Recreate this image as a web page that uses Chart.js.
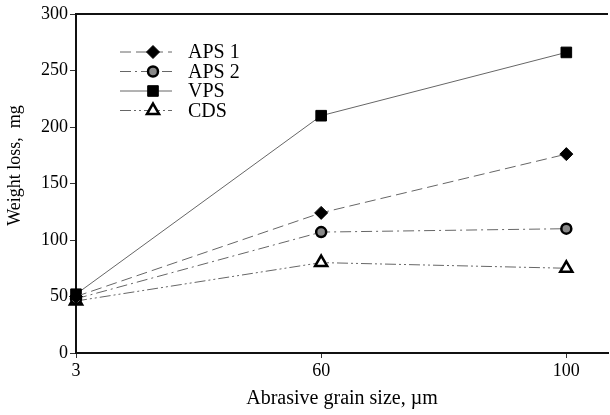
<!DOCTYPE html>
<html>
<head>
<meta charset="utf-8">
<script src="https://cdn.jsdelivr.net/npm/chart.js@4.4.1/dist/chart.umd.min.js"></script>
<style>
  html, body { margin: 0; padding: 0; background: #fff; }
  #wrap { width: 610px; height: 415px; }
</style>
</head>
<body>
<div id="wrap"><canvas id="c" width="610" height="415"></canvas></div>
<script>
// grain sizes (categories), weight loss in mg
const grainSizes = ['3', '60', '100'];
const aps1 = [50, 124, 176];
const aps2 = [48, 107, 110];
const vps = [52, 210, 266];
const cds = [46, 80, 75];
const yTicks = [0, 50, 100, 150, 200, 250, 300];

const serif = '"Liberation Serif", "DejaVu Serif", serif';

function pts(vals) {
    return vals.map((v, i) => ({ x: i, y: v }));
}

const series = [
    { label: 'APS 1', data: aps1, dash: [11, 5], style: 'rectRot', r: 6.5, fill: '#000', bw: 1 },
    { label: 'APS 2', data: aps2, dash: [11, 4, 2, 4], style: 'circle', r: 5, fill: '#888', bw: 2.5 },
    { label: 'VPS', data: vps, dash: [], style: 'rect', r: 7.5, fill: '#000', bw: 1 },
    { label: 'CDS', data: cds, dash: [11, 3, 2, 3, 2, 3], style: 'triangle', r: 7, fill: '#fff', bw: 2.5 }
];

const datasets = series.map(s => ({
    label: s.label,
    data: pts(s.data),
    borderColor: '#666',
    borderWidth: 1,
    borderDash: s.dash,
    pointStyle: s.style,
    pointRadius: s.r,
    pointBackgroundColor: s.fill,
    pointBorderColor: '#000',
    pointBorderWidth: s.bw,
    tension: 0,
    clip: false
}));

// legend inside the plot (line sample + marker) and the top frame line
const framePlugin = {
    id: 'frame',
    afterDraw(chart) {
        const ctx = chart.ctx;
        const a = chart.chartArea;
        ctx.save();
        ctx.strokeStyle = '#111';
        ctx.lineWidth = 2;
        ctx.beginPath();
        ctx.moveTo(a.left, a.top);
        ctx.lineTo(a.right, a.top);
        ctx.stroke();

        ctx.font = '20px ' + serif;
        ctx.textBaseline = 'middle';
        series.forEach((s, i) => {
            const y = 52 + i * 19.5;
            ctx.strokeStyle = '#666';
            ctx.lineWidth = 1;
            ctx.setLineDash(s.dash);
            ctx.beginPath();
            ctx.moveTo(120, y);
            ctx.lineTo(172, y);
            ctx.stroke();
            ctx.setLineDash([]);
            ctx.fillStyle = s.fill;
            ctx.strokeStyle = '#000';
            ctx.lineWidth = s.bw;
            Chart.helpers.drawPoint(ctx, {
                pointStyle: s.style,
                radius: s.r,
                rotation: 0,
                borderWidth: s.bw
            }, 153, y);
            ctx.fillStyle = '#000';
            ctx.fillText(s.label, 188, y + 1);
        });
        ctx.restore();
    }
};

new Chart(document.getElementById('c'), {
    type: 'line',
    data: { datasets: datasets },
    options: {
        responsive: false,
        animation: false,
        layout: { autoPadding: false, padding: { top: 14, right: 2, left: 0, bottom: 0 } },
        plugins: { legend: { display: false }, tooltip: { enabled: false } },
        scales: {
            x: {
                type: 'linear',
                min: 0,
                max: 2.17,
                afterFit: s => { s.height = 62; s.paddingRight = 0; s.paddingLeft = 0; },
                afterBuildTicks: s => { s.ticks = grainSizes.map((_, i) => ({ value: i })); },
                ticks: {
                    callback: v => grainSizes[v],
                    color: '#000',
                    font: { family: serif, size: 18 },
                    padding: 2,
                    maxRotation: 0
                },
                grid: { drawOnChartArea: false, tickLength: 5, color: '#333' },
                border: { color: '#111', width: 2 },
                title: {
                    display: true,
                    text: 'Abrasive grain size, µm',
                    color: '#000',
                    font: { family: serif, size: 20 },
                    padding: { top: 11 }
                }
            },
            y: {
                min: 0,
                max: 300,
                afterFit: s => { s.width = 76; },
                afterBuildTicks: s => { s.ticks = yTicks.map(v => ({ value: v })); },
                ticks: {
                    color: '#000',
                    font: { family: serif, size: 18 },
                    padding: 2
                },
                grid: { drawOnChartArea: false, tickLength: 6, color: '#333' },
                border: { color: '#111', width: 2 },
                title: {
                    display: true,
                    text: '        Weight loss,  mg',
                    color: '#000',
                    font: { family: serif, size: 18 },
                    padding: { bottom: 4 }
                }
            }
        }
    },
    plugins: [framePlugin]
});
</script>
</body>
</html>
